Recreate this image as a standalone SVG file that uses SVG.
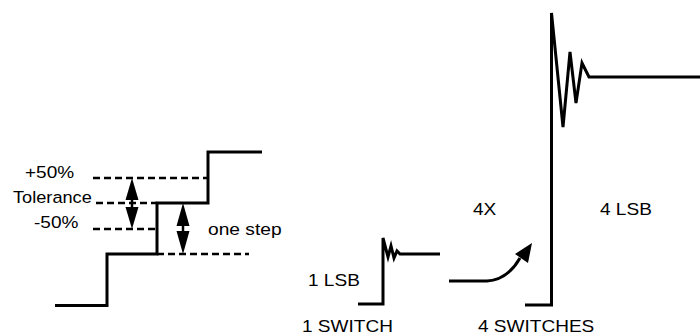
<svg xmlns="http://www.w3.org/2000/svg" width="700" height="336" viewBox="0 0 700 336">
<style>
.ln{fill:none;stroke:#000;stroke-width:3;stroke-linejoin:miter}
.th{fill:none;stroke:#000;stroke-width:2.5}
.ds{fill:none;stroke:#000;stroke-width:2.5;stroke-dasharray:7 4}
.hd{fill:#000;stroke:none}
text{font-family:"Liberation Sans",Arial,sans-serif;font-size:17px;fill:#000}
</style>
<rect width="700" height="336" fill="#fff"/>
<g id="staircase">
<path class="ln" d="M55,305.5 H107 V254 H157 V203 H208 V152 H262"/>
</g>
<g id="tolerance-lines">
<path class="ds" d="M93,178 H208"/>
<path class="ds" d="M96,203 H157"/>
<path class="ds" d="M93,229 H157"/>
<path class="ds" d="M157,254 H249"/>
</g>
<g id="labels-left">
<text transform="translate(25,178) scale(1.12,1)">+50%</text>
<text transform="translate(13,203) scale(1.07,1)">Tolerance</text>
<text transform="translate(34,228) scale(1.12,1)">-50%</text>
<text transform="translate(208,235) scale(1.13,1)">one step</text>
</g>
<g id="connectors">
<g id="arrow-tolerance">
<path class="th" d="M132,195 V212"/>
<polygon class="hd" points="132,178 138.5,200 125.5,200"/>
<polygon class="hd" points="132,229 138.5,207 125.5,207"/>
</g>
<g id="arrow-step">
<path class="th" d="M183,220 V237"/>
<polygon class="hd" points="183,203 189.5,226 176.5,226"/>
<polygon class="hd" points="183,254 189.5,231 176.5,231"/>
</g>
<g id="arrow-4x">
<path class="ln" d="M449,281 H487 C502,280 512,272 520,258"/>
<polygon class="hd" points="532,243 528,263 515,254"/>
</g>
</g>
<g id="one-switch">
<path class="ln" d="M358,304 H383 V238 L388,257 L391,246 L394,258 L397,251 L400,254 H440"/>
<text transform="translate(308,286) scale(1.12,1)">1 LSB</text>
<text transform="translate(302,332) scale(1.12,1)">1 SWITCH</text>
</g>
<g id="four-switches">
<path class="ln" d="M525,305 H551.5 V13 L563,127 L570,52 L576,103 L582,63 L589,77 H700"/>
<text transform="translate(473,215) scale(1.12,1)">4X</text>
<text transform="translate(600,215) scale(1.12,1)">4 LSB</text>
<text transform="translate(478,332) scale(1.12,1)">4 SWITCHES</text>
</g>
</svg>
